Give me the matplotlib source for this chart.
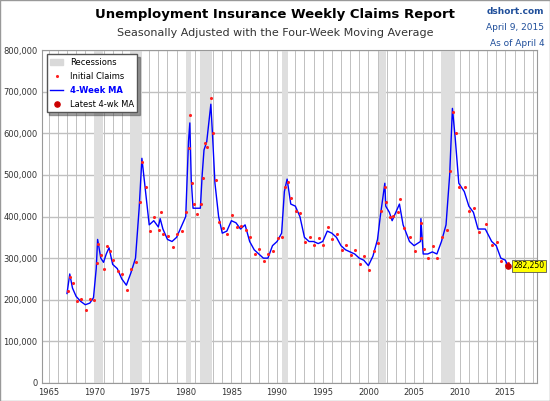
import matplotlib
matplotlib.use("Agg")
import matplotlib.pyplot as plt
import numpy as np
from matplotlib.patches import Patch

ma_dates = [1967.0,1967.3,1967.6,1968.0,1968.5,1969.0,1969.5,1969.9,1970.2,1970.35,1970.7,1971.0,1971.3,1971.6,1972.0,1972.5,1973.0,1973.5,1974.0,1974.5,1974.9,1975.2,1975.6,1976.0,1976.5,1977.0,1977.2,1977.5,1978.0,1978.5,1979.0,1979.5,1980.0,1980.3,1980.45,1980.6,1980.8,1981.2,1981.6,1981.8,1982.0,1982.3,1982.75,1982.9,1983.2,1983.6,1984.0,1984.5,1985.0,1985.5,1986.0,1986.5,1987.0,1987.5,1988.0,1988.5,1989.0,1989.5,1990.0,1990.5,1990.8,1991.1,1991.5,1992.0,1992.5,1993.0,1993.5,1994.0,1994.5,1995.0,1995.5,1996.0,1996.5,1997.0,1997.5,1998.0,1998.5,1999.0,1999.5,2000.0,2000.5,2001.0,2001.3,2001.8,2001.9,2002.3,2002.6,2003.2,2003.4,2003.8,2004.5,2005.0,2005.7,2005.75,2006.0,2006.5,2007.0,2007.5,2008.0,2008.5,2008.9,2009.2,2009.5,2009.9,2010.5,2011.0,2011.5,2012.0,2012.8,2013.5,2014.0,2014.5,2015.0,2015.25]
ma_values = [215,262,228,208,196,188,192,205,275,345,300,290,310,325,285,275,250,235,265,300,420,540,460,380,390,375,395,370,345,340,350,375,400,580,625,490,420,420,420,500,560,580,670,610,480,400,360,365,390,385,370,380,340,320,310,300,300,330,340,360,460,490,430,425,400,350,340,340,335,340,365,360,350,330,320,315,310,300,295,282,305,345,400,480,425,410,390,420,430,380,340,330,340,395,310,310,315,310,340,380,500,660,590,480,460,425,410,370,370,340,330,300,295,282]
claim_offsets = [5,-8,12,-10,6,-12,9,-6,14,-10,8,-15,18,-9,11,-7,13,-12,8,-10,15,-9,12,-14,10,-8,16,-11,9,-13,7,-10,12,-15,18,-9,11,-14,10,-8,16,-12,15,-10,9,-13,12,-8,14,-11,8,-12,10,-9,13,-7,11,-14,9,-10,12,-8,15,-11,9,-12,10,-8,13,-9,11,-14,8,-10,12,-7,10,-13,9,-11,12,-8,14,-10,9,-12,11,-9,13,-8,10,-12,9,-11,12,-10,14,-9,11,-13,10,-8,12,-9,11,-12,10,-8,13,-9,10,-7,-12,6]
recessions = [(1969.95,1970.9),(1973.9,1975.2),(1980.0,1980.55),(1981.55,1982.9),(1990.55,1991.2),(2001.2,2001.9),(2007.95,2009.5)]
latest_value = 282250

fig = plt.figure(figsize=(5.5,4.01), dpi=100)
ax = fig.add_axes([0.077,0.045,0.90,0.83])
for a,b in recessions:
    ax.axvspan(a,b,color='#dedede',zorder=1,lw=0)
ax.plot(np.array(ma_dates), np.array(ma_values)*1000, color='#0000ff', lw=1.0, zorder=3, label='4-Week MA')
cd = np.array(ma_dates)+0.06
cv = (np.array(ma_values)+np.array(claim_offsets))*1000
ax.scatter(cd, cv, s=5, color='#ff2020', zorder=4, lw=0, label='Initial Claims')
ax.scatter([ma_dates[-1]],[latest_value], s=14, color='#cc0000', zorder=5, label='Latest 4-wk MA')
ax.annotate(f"{latest_value:,}", (ma_dates[-1],latest_value), xytext=(4,0), textcoords='offset points',
            fontsize=5.5, va='center', bbox=dict(boxstyle='square,pad=0.2', fc='#ffff00', ec='#555555', lw=0.6))
ax.set_xlim(1964.3,2018.5)
ax.set_ylim(0,800000)
ax.set_xticks(range(1965,2016,5))
ax.set_xticks(range(1965,2019), minor=True)
ax.set_yticks(range(0,800001,100000))
ax.set_yticklabels([f"{v:,}" for v in range(0,800001,100000)])
ax.tick_params(labelsize=6, length=0, which='both', colors='#333333')
ax.grid(True, which='both', axis='x', color='#c0c0c0', lw=0.7)
ax.grid(True, which='major', axis='y', color='#c0c0c0', lw=1)
ax.set_axisbelow(True)
for s in ax.spines.values():
    s.set_color('#999999')
h,l = ax.get_legend_handles_labels()
leg = ax.legend([Patch(color='#d9d9d9')]+[h[1],h[0],h[2]], ['Recessions',l[1],l[0],l[2]], loc='upper left',
          fontsize=6, shadow=True, fancybox=False, framealpha=1, edgecolor='#555555', markerscale=1.0,
          handlelength=1.6, labelspacing=0.6)
leg.get_texts()[2].set_color('#0000ff'); leg.get_texts()[2].set_fontweight('bold')
fig.text(0.5,0.955,'Unemployment Insurance Weekly Claims Report', ha='center', fontsize=9.5, fontweight='bold')
fig.text(0.5,0.91,'Seasonally Adjusted with the Four-Week Moving Average', ha='center', fontsize=8, color='#333333')
for i,t in enumerate(['dshort.com','April 9, 2015','As of April 4']):
    fig.text(0.99,0.965-i*0.04,t,ha='right',fontsize=6.5,color='#1f4e9a',fontweight='bold' if i==0 else 'normal')
fig.patches.append(plt.Rectangle((0,0),1,1,transform=fig.transFigure,fill=False,ec='#999999',lw=1))
fig.savefig('out.png', dpi=100)
